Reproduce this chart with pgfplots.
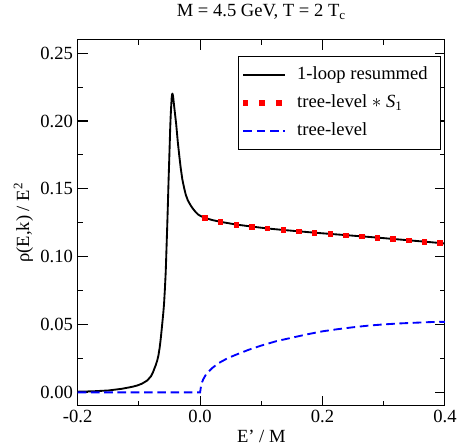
\documentclass[border=0pt]{standalone}
\usepackage{fontspec}
\setmainfont{Liberation Serif}
\usepackage{pgfplots}
\pgfplotsset{compat=1.18}

% one reference pixel = 0.75pt
\newcommand{\chartfont}{\fontsize{14}{16.8}\selectfont}
\pgfplotsset{
  linelegend/.style={legend image code/.code={\draw[##1] (0pt,0pt) -- (31.5pt,0pt);}},
  marklegend/.style={legend image code/.code={\draw[##1] plot coordinates {(1.5pt,0pt) (14.1pt,0pt) (26.7pt,0pt)};}},
}

\begin{document}
\begin{tikzpicture}
\begin{axis}[
  scale only axis, width=276.75pt, height=276pt,
  xmin=-0.2, xmax=0.4, ymin=-0.01, ymax=0.26,
  xtick={-0.2,0,0.2,0.4}, minor xtick={-0.1,0.1,0.3},
  ytick={0,0.05,0.10,0.15,0.20,0.25}, minor ytick={0.025,0.075,0.125,0.175,0.225},
  xticklabel style={/pgf/number format/.cd, fixed, fixed zerofill, precision=1, assume math mode=true},
  yticklabel style={/pgf/number format/.cd, fixed, fixed zerofill, precision=2, assume math mode=true},
  tick label style={font=\chartfont},
  tick align=inside, major tick length=7.5pt, minor tick length=3.75pt,
  tick style={black, line width=0.8pt},
  axis line style={line width=0.8pt},
  title={M = 4.5 GeV, T = 2 T\textsubscript{c}},
  title style={font=\chartfont, at={([yshift=11.25pt]axis description cs:0.5,1)}, anchor=base},
  xlabel={E' / M},
  xlabel style={font=\chartfont, at={([yshift=-27.2pt]axis description cs:0.5,0)}, anchor=base},
  ylabel={ρ(E,k) / E\textsuperscript{2}},
  ylabel style={font=\chartfont, at={([xshift=-36.5pt]axis description cs:0,0.5)}, anchor=base, rotate=0},
  legend style={at={(axis description cs:1,1)}, anchor=north east, xshift=-3pt, yshift=-12pt,
    draw=black, line width=0.7pt, font=\chartfont, inner xsep=3pt, inner ysep=7.5pt,
    row sep=8.25pt, nodes={inner sep=0pt, text height=10pt, text depth=3pt},
    /tikz/every odd column/.append style={column sep=8.25pt}},
  legend cell align=left,
  clip=true,
]
% 1-loop resummed
\addplot[black, line width=1.4pt, line join=round, linelegend] coordinates {
(-0.200,0.0005) (-0.175,0.0008) (-0.150,0.0014) (-0.127,0.0027) (-0.110,0.0042)
(-0.1025,0.0051) (-0.095,0.0064) (-0.0862,0.0088) (-0.080,0.0120) (-0.0768,0.0150)
(-0.0725,0.0200) (-0.0700,0.0235) (-0.0681,0.0271) (-0.0660,0.0330) (-0.0643,0.0394)
(-0.0628,0.0460) (-0.0615,0.0520) (-0.0600,0.0590) (-0.0589,0.0650) (-0.0575,0.0760)
(-0.0561,0.0890) (-0.0545,0.1110) (-0.0535,0.1250) (-0.0525,0.1400) (-0.0515,0.1560)
(-0.0505,0.1700) (-0.0496,0.1830) (-0.0488,0.1950) (-0.0480,0.2040) (-0.0472,0.2110)
(-0.0464,0.2170) (-0.0458,0.2195) (-0.0452,0.2202) (-0.0446,0.2195) (-0.0438,0.2170)
(-0.0430,0.2135) (-0.0420,0.2095) (-0.0410,0.2055) (-0.0390,0.1975) (-0.0365,0.1850)
(-0.0340,0.1745) (-0.0316,0.1652) (-0.0290,0.1570) (-0.0260,0.1505) (-0.0234,0.1457)
(-0.0200,0.1415) (-0.0160,0.1383) (-0.0126,0.1359) (-0.0080,0.1333) (-0.0030,0.1310)
(0.0030,0.1295) (0.0077,0.1286) (0.0200,0.1270) (0.0333,0.1257)
(0.0589,0.1237) (0.0845,0.1222) (0.1101,0.1208) (0.1357,0.1197) (0.1613,0.1187)
(0.1869,0.1177) (0.2125,0.1168) (0.2381,0.1159) (0.2637,0.1150) (0.2893,0.1141)
(0.3149,0.1131) (0.3405,0.1121) (0.3661,0.1111) (0.3917,0.1101) (0.4000,0.1097)
};
\addlegendentry{\makebox[105pt][l]{1-loop resummed}}
% tree-level * S1
\addplot[red, only marks, mark=square*, mark size=1.7pt, marklegend] coordinates {
(0.0077,0.1286) (0.0333,0.1257) (0.0589,0.1237) (0.0845,0.1222) (0.1101,0.1208)
(0.1357,0.1197) (0.1613,0.1187) (0.1869,0.1177) (0.2125,0.1168) (0.2381,0.1159)
(0.2637,0.1150) (0.2893,0.1141) (0.3149,0.1131) (0.3405,0.1121) (0.3661,0.1111)
(0.3917,0.1101)
};
\addlegendentry{tree-level $\ast$ \textit{S}\textsubscript{1}}
% tree-level
\addplot[blue, line width=1.4pt, dash pattern=on 6.5pt off 3.5pt, linelegend] coordinates {
(-0.200,0) (0.000,0) (0.002,0.0060) (0.005,0.0095) (0.010,0.0135) (0.020,0.0180)
(0.030,0.0215) (0.045,0.0252) (0.060,0.0280) (0.080,0.0315) (0.100,0.0345)
(0.125,0.0378) (0.150,0.0403) (0.175,0.0428) (0.200,0.0450) (0.225,0.0466)
(0.250,0.0480) (0.275,0.0492) (0.300,0.0501) (0.325,0.0508) (0.350,0.0513)
(0.375,0.0518) (0.400,0.0520)
};
\addlegendentry{tree-level}
\end{axis}
\path (current axis.south west) ++(-58.5pt,-30pt) rectangle ++(345.75pt,335.25pt);
\end{tikzpicture}
\end{document}
